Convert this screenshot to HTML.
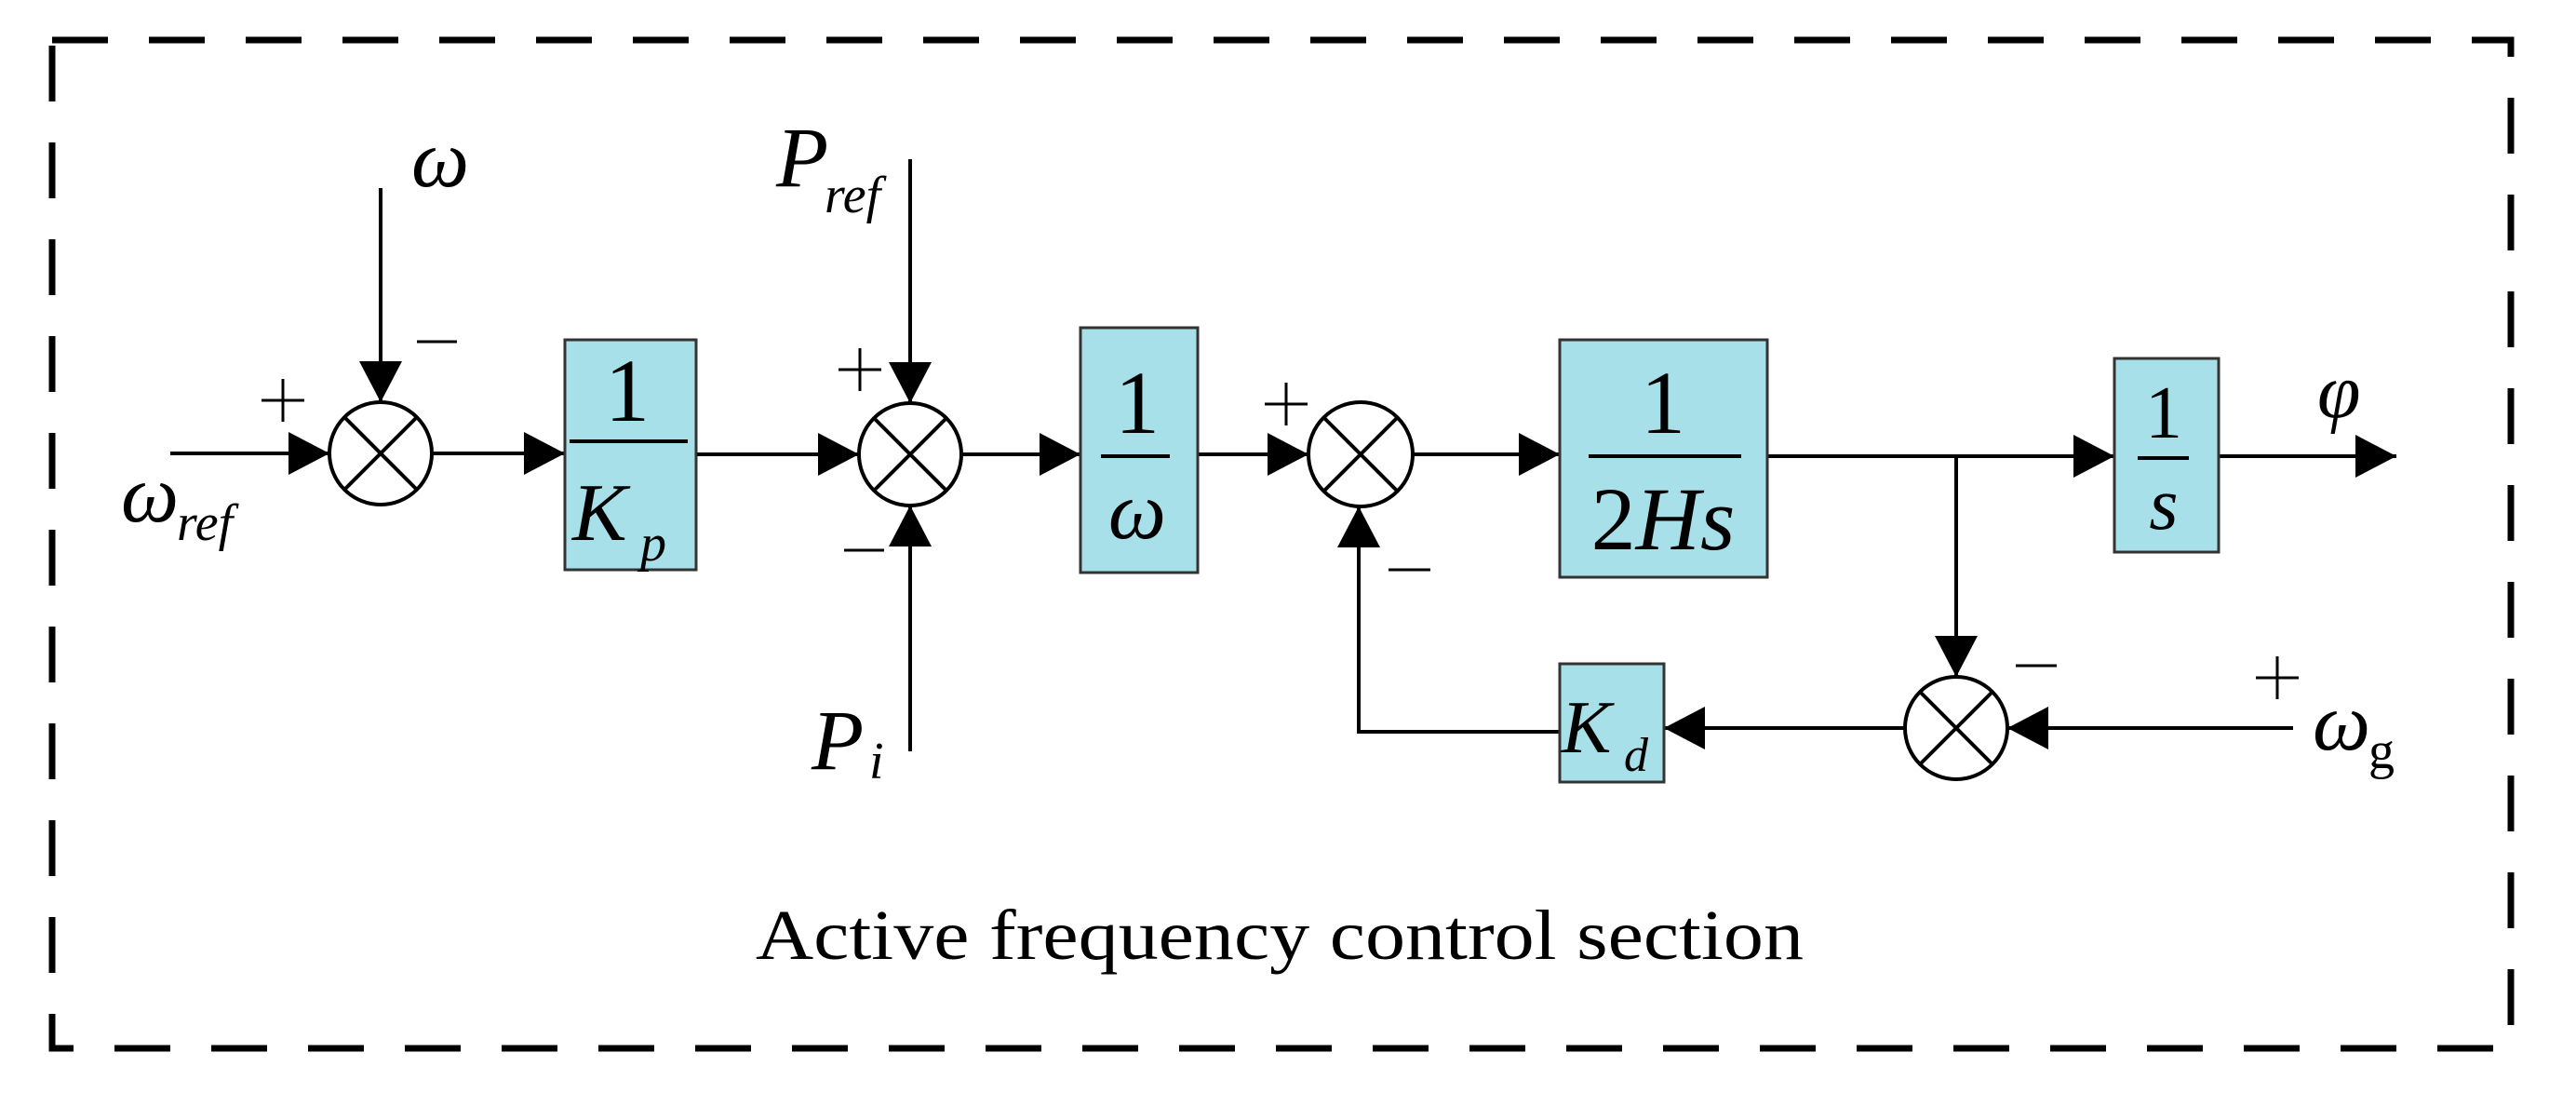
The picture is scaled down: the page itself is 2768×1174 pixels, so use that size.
<!DOCTYPE html>
<html><head><meta charset="utf-8"><style>
html,body{margin:0;padding:0;background:#fff;}
svg{display:block;}
text{font-family:"Liberation Serif",serif;fill:#000;}
.it{font-style:italic;}
</style></head><body>
<svg width="2768" height="1174" viewBox="0 0 2768 1174" xmlns="http://www.w3.org/2000/svg">
<defs>
<marker id="a" markerWidth="44" markerHeight="46" refX="44" refY="23" orient="auto" markerUnits="userSpaceOnUse">
<path d="M0,0 L44,23 L0,46 Z" fill="#000"/></marker>
</defs>
<rect x="56" y="43" width="2642" height="1083" fill="none" stroke="#000" stroke-width="7" stroke-dasharray="60 44"/>

<g stroke="#000" stroke-width="4" fill="none">
<circle cx="409" cy="487" r="55"/>
<path d="M370,448 L448,526 M448,448 L370,526"/>
<circle cx="978" cy="488" r="55"/>
<path d="M939,449 L1017,527 M1017,449 L939,527"/>
<circle cx="1462" cy="488" r="56"/>
<path d="M1422,448 L1502,528 M1502,448 L1422,528"/>
<circle cx="2102" cy="782" r="55"/>
<path d="M2063,743 L2141,821 M2141,743 L2063,821"/>

<line x1="183" y1="487" x2="354" y2="487" marker-end="url(#a)"/>
<line x1="409" y1="202" x2="409" y2="432" marker-end="url(#a)"/>
<line x1="464" y1="487" x2="607" y2="487" marker-end="url(#a)"/>
<line x1="748" y1="488" x2="923" y2="488" marker-end="url(#a)"/>
<line x1="978" y1="171" x2="978" y2="433" marker-end="url(#a)"/>
<line x1="978" y1="807" x2="978" y2="543" marker-end="url(#a)"/>
<line x1="1033" y1="488" x2="1161" y2="488" marker-end="url(#a)"/>
<line x1="1287" y1="488" x2="1406" y2="488" marker-end="url(#a)"/>
<line x1="1518" y1="488" x2="1676" y2="488" marker-end="url(#a)"/>
<line x1="1899" y1="490" x2="2272" y2="490" marker-end="url(#a)"/>
<line x1="2384" y1="490" x2="2575" y2="490" marker-end="url(#a)"/>
<line x1="2102" y1="490" x2="2102" y2="727" marker-end="url(#a)"/>
<line x1="2464" y1="782" x2="2157" y2="782" marker-end="url(#a)"/>
<line x1="2047" y1="782" x2="1788" y2="782" marker-end="url(#a)"/>
<polyline points="1676,786 1460,786 1460,544" marker-end="url(#a)"/>
</g>

<g fill="#a8e0ea" stroke="#333" stroke-width="3">
<rect x="607" y="365" width="141" height="247"/>
<rect x="1161" y="352" width="126" height="263"/>
<rect x="1676" y="365" width="223" height="255"/>
<rect x="2272" y="385" width="112" height="208"/>
<rect x="1676" y="713" width="112" height="127"/>
</g>
<g stroke="#000" stroke-width="4">
<line x1="612" y1="474" x2="739" y2="474"/>
<line x1="1183" y1="490" x2="1257" y2="490"/>
<line x1="1707" y1="490" x2="1871" y2="490"/>
<line x1="2297" y1="492" x2="2352" y2="492"/>
</g>

<text x="674" y="452" font-size="96" text-anchor="middle">1</text>
<text x="615" y="580" font-size="88" class="it">K</text>
<text x="688" y="602" font-size="56" class="it">p</text>
<text x="1222" y="465" font-size="96" text-anchor="middle">1</text>
<text x="1222" y="578" font-size="88" class="it" text-anchor="middle">ω</text>
<text x="1787" y="465" font-size="96" text-anchor="middle">1</text>
<text x="1787" y="590" font-size="96" text-anchor="middle">2<tspan class="it">Hs</tspan></text>
<text x="2325" y="470" font-size="80" text-anchor="middle">1</text>
<text x="2325" y="568" font-size="80" class="it" text-anchor="middle">s</text>
<text x="1678" y="808" font-size="80" class="it">K</text>
<text x="1745" y="828" font-size="52" class="it">d</text>

<text x="442" y="200" font-size="88" class="it">ω</text>
<text x="130" y="560" font-size="88" class="it">ω</text>
<text x="190" y="580" font-size="56" class="it">ref</text>
<text x="834" y="200" font-size="92" class="it">P</text>
<text x="886" y="228" font-size="56" class="it">ref</text>
<text x="872" y="826" font-size="92" class="it">P</text>
<text x="934" y="836" font-size="56" class="it">i</text>
<text x="2490" y="448" font-size="84" class="it">φ</text>
<text x="2485" y="805" font-size="88" class="it">ω</text>
<text x="2545" y="825" font-size="56">g</text>

<g stroke="#000" stroke-width="3">
<path d="M281,430 H327 M304,407 V453"/>
<line x1="448" y1="367" x2="491" y2="367"/>
<path d="M901,397 H947 M924,374 V420"/>
<line x1="907" y1="591" x2="950" y2="591"/>
<path d="M1359,434 H1405 M1382,411 V457"/>
<line x1="1492" y1="612" x2="1537" y2="612"/>
<line x1="2166" y1="715" x2="2210" y2="715"/>
<path d="M2424,728 H2470 M2447,705 V751"/>
</g>

<text x="812" y="1030" font-size="76" textLength="1126" lengthAdjust="spacingAndGlyphs">Active frequency control section</text>
</svg>
</body></html>
